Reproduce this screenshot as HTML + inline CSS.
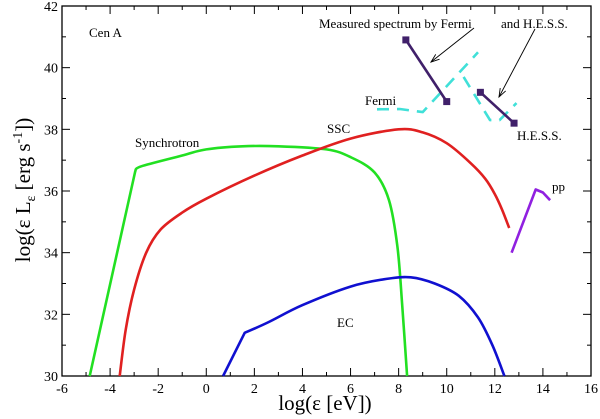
<!DOCTYPE html>
<html><head><meta charset="utf-8"><style>
body{margin:0;background:#fff;}
svg{display:block;font-family:"Liberation Serif",serif;}
</style></head><body>
<svg id="c" width="600" height="419" viewBox="0 0 600 419">
<g id="axes"></g><g id="series"></g><g id="labels"></g>
</svg>
<script>
const xTicks=[-6,-4,-2,0,2,4,6,8,10,12,14,16];
const yTicks=[30,32,34,36,38,40,42];
const syncX=[-4.85,-2.95,-2.7,-1,0,1.5,3,5,6,7,7.6,7.95,8.15,8.35];
const syncY=[30,36.65,36.8,37.15,37.35,37.45,37.45,37.35,37.1,36.6,35.7,34.2,32.3,30];
const sscX=[-3.6,-3.35,-3.0,-2.5,-1.9,-1,0,2,4,6,8,9,10,11,11.6,12.0,12.3,12.6];
const sscY=[30,31.5,32.8,34.0,34.75,35.3,35.75,36.5,37.15,37.7,38.0,37.9,37.55,36.9,36.4,35.9,35.4,34.8];
const ecX=[0.7,1.6,2.6,4,6,7.5,8.5,9.5,10.5,11.3,11.9,12.4];
const ecY=[30,31.4,31.75,32.3,32.9,33.15,33.2,33.0,32.6,31.9,31.0,30];
const ppX=[12.7,13.7,14.0,14.3];
const ppY=[34.0,36.05,35.95,35.7];
const fermiX=[8.3,10.0];
const fermiY=[40.9,38.9];
const hessX=[11.4,12.8];
const hessY=[39.2,38.2];
const cyanAX=[7.1,8.05,9.0,11.3];
const cyanAY=[38.65,38.66,38.56,40.5];
const cyanBX=[10.7,11.8,12.2,12.9];
const cyanBY=[39.7,38.3,38.3,38.85];

const L=62,R=591,T=6,B=376;
const sx=v=>L+(v+6)/22*(R-L);
const sy=v=>B-(v-30)/12*(B-T);
const NS="http://www.w3.org/2000/svg";
function mk(parent,tag,attrs){const e=document.createElementNS(NS,tag);for(const k in attrs)e.setAttribute(k,attrs[k]);document.getElementById(parent).appendChild(e);return e;}

let fr=mk('axes','rect',{x:L,y:T,width:R-L,height:B-T,fill:'none',stroke:'#000','stroke-width':1.3});


for(let v=-6;v<=16;v++){const maj=v%2===0;const len=maj?8:4;
 let t=mk('axes','line',{x1:sx(v),x2:sx(v),y1:B,y2:B-len,stroke:'#000'});
 
 
 let t2=mk('axes','line',{x1:sx(v),x2:sx(v),y1:T,y2:T+len,stroke:'#000'});
 
 }
for(let v=30;v<=42;v++){const maj=v%2===0;const len=maj?8:4;
 let t=mk('axes','line',{x1:L,x2:L+len,y1:sy(v),y2:sy(v),stroke:'#000'});
 
 
 let t2=mk('axes','line',{x1:R,x2:R-len,y1:sy(v),y2:sy(v),stroke:'#000'});
 
 }
xTicks.forEach(v=>{let t=mk('axes','text',{x:sx(v),y:B+17,'text-anchor':'middle','font-size':14});t.textContent=v;
 
 });
yTicks.forEach(v=>{let t=mk('axes','text',{x:L-4,y:sy(v)+5,'text-anchor':'end','font-size':14});t.textContent=v;
 
 });

// corner: index up to which segments are straight; smoothing starts there
function pathD(xs,ys,smooth,corner){
 const P=xs.map((x,i)=>[sx(x),sy(ys[i])]);
 let d='M'+P[0][0].toFixed(1)+','+P[0][1].toFixed(1);
 const c=smooth?(corner||0):P.length;
 for(let i=0;i<P.length-1;i++){
  const p1=P[i],p2=P[i+1];
  if(i<c){d+='L'+p2[0].toFixed(1)+','+p2[1].toFixed(1);continue;}
  const p0=P[Math.max(c,i-1)],p3=P[Math.min(P.length-1,i+2)];
  const c1=[p1[0]+(p2[0]-p0[0])/6,p1[1]+(p2[1]-p0[1])/6];
  const c2=[p2[0]-(p3[0]-p1[0])/6,p2[1]-(p3[1]-p1[1])/6];
  d+='C'+c1.map(v=>v.toFixed(1))+' '+c2.map(v=>v.toFixed(1))+' '+p2.map(v=>v.toFixed(1));
 }
 return d;}
function line(xs,ys,color,name,dash,smooth,corner){
 const p=mk('series','path',{d:pathD(xs,ys,smooth,corner),fill:'none',stroke:color,'stroke-width':2.6,'stroke-linejoin':'round'});
 if(dash)p.setAttribute('stroke-dasharray',dash);
 
 return p;}
line(syncX,syncY,'#22e022','synchrotron-curve',null,true,1);
line(sscX,sscY,'#e02020','ssc-curve',null,true,0);
line(ecX,ecY,'#1010d0','ec-curve',null,true,1);
line(ppX,ppY,'#9020e0','pp-curve');
line(cyanAX,cyanAY,'#40e0d8','fermi-model-dashed','12,8');
line(cyanBX,cyanBY,'#40e0d8','hess-model-dashed','12,8');
line(fermiX,fermiY,'#40206a','fermi-measured');
line(hessX,hessY,'#40206a','hess-measured');
[[fermiX,fermiY,'fermi-marker'],[hessX,hessY,'hess-marker']].forEach(([xs,ys,n])=>xs.forEach((x,i)=>{
 const m=mk('series','rect',{x:sx(x)-3.5,y:sy(ys[i])-3.5,width:7,height:7,fill:'#40206a'});
 
 }));

function txt(x,y,s,name,size){const t=mk('labels','text',{x:x,y:y,'font-size':size||13});t.textContent=s;
 
 return t;}
txt(89,37,'Cen A','source-label');
txt(135,147,'Synchrotron','synchrotron-label');
txt(327,133,'SSC','ssc-label');
txt(365,105,'Fermi','fermi-label');
txt(517,140,'H.E.S.S.','hess-label');
txt(552,191,'pp','pp-label');
txt(337,327,'EC','ec-label');
txt(319,28,'Measured spectrum  by Fermi','measured-label');
txt(501,28,'and H.E.S.S.','measured-label-hess');
function arrow(x1,y1,x2,y2,name){const g=mk('labels','path',{d:`M${x1},${y1}L${x2},${y2}`,stroke:'#000','stroke-width':0.9,fill:'none'});
 
 
 const a=Math.atan2(y2-y1,x2-x1),h=9;
 const p=mk('labels','path',{d:`M${x2-h*Math.cos(a-0.35)},${y2-h*Math.sin(a-0.35)}L${x2},${y2}L${x2-h*Math.cos(a+0.35)},${y2-h*Math.sin(a+0.35)}`,stroke:'#000','stroke-width':0.9,fill:'none'});
 
 }
arrow(474,28,431,62,'fermi-arrow');
arrow(535,29,499,97,'hess-arrow');
const xt=txt(325,410,'log(ε [eV])','x-axis-title',21);xt.setAttribute('text-anchor','middle');
const yt=mk('labels','text',{transform:'translate(30,190) rotate(-90)','text-anchor':'middle','font-size':21});
yt.innerHTML='log(ε L<tspan font-size="14" dy="5">ε</tspan><tspan dy="-5"> [erg s</tspan><tspan font-size="14" dy="-8">-1</tspan><tspan dy="8">])</tspan>';


</script>
</body></html>
